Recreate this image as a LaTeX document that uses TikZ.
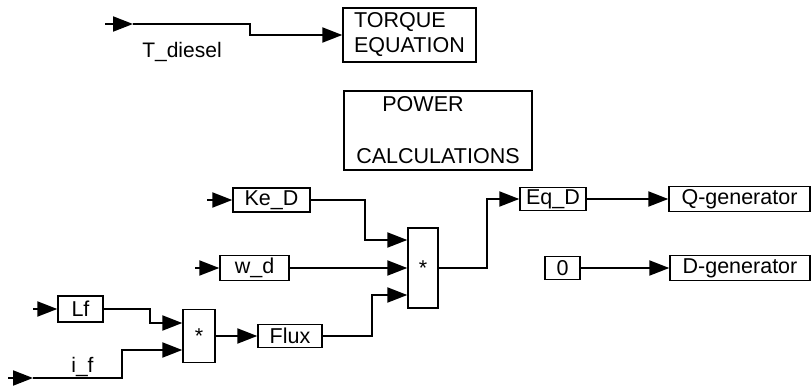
\documentclass[tikz,border=0pt]{standalone}
\usepackage{fontspec}
\setmainfont{Liberation Sans}
\usetikzlibrary{arrows.meta}
\begin{document}
\begin{tikzpicture}[x=1pt,y=-1pt,
  blk/.style={draw, line width=1.4pt, inner sep=0pt, font=\fontsize{21.5}{25}\selectfont},
  lbl/.style={inner sep=0pt, font=\fontsize{21}{25}\selectfont},
  ln/.style={line width=2pt},
  arr/.style={ln, -{Triangle[length=20pt,width=15pt]}}]
\useasboundingbox (0,0) rectangle (812,391);
% blocks
\node[blk, minimum width=133pt, minimum height=54pt, align=left] (torque) at (409.5,35) {TORQUE\\EQUATION};
\node[blk, minimum width=188pt, minimum height=79pt, align=center] (power) at (438,130.5) {POWER\hspace*{30pt}\\[27pt]CALCULATIONS};
\node[blk, minimum width=77pt, minimum height=24pt] (ked) at (271.5,200) {Ke\_D};
\node[blk, minimum width=69pt, minimum height=25pt] (wd) at (254.5,268) {w\_d};
\node[blk, minimum width=30pt, minimum height=80pt] (bigstar) at (423,268) {*};
\node[blk, minimum width=45pt, minimum height=26pt] (lf) at (80.5,309) {Lf};
\node[blk, minimum width=32pt, minimum height=53pt] (smstar) at (199,336) {*};
\node[blk, minimum width=64pt, minimum height=23pt] (flux) at (290,336) {Flux};
\node[blk, minimum width=66pt, minimum height=23pt] (eqd) at (553,199) {Eq\_D};
\node[blk, minimum width=141pt, minimum height=25pt] (qgen) at (739.5,199) {Q-generator};
\node[blk, minimum width=35pt, minimum height=23pt] (zero) at (562.5,268) {0};
\node[blk, minimum width=140pt, minimum height=25pt] (dgen) at (740,268) {D-generator};
% labels
\node[lbl, anchor=base] (tlabel) at (182,57) {T\_diesel};
\node[lbl, anchor=base] (iflabel) at (82.5,372) {i\_f};
% free ends
\coordinate (tin) at (105,24);
\coordinate (thead) at (133,24);
\coordinate (kein) at (207,200);
\coordinate (wdin) at (195,268);
\coordinate (lfin) at (33,309);
\coordinate (ifin) at (8,378);
\coordinate (ifhead) at (33,378);
% connectors
\draw[arr] (tin) -- (thead);
\draw[arr] (thead) -- (250,24) |- (torque.west);
\draw[arr] (kein) -- (ked.west);
\draw[arr] (wdin) -- (wd.west);
\draw[arr] (lfin) -- (lf.west);
\draw[arr] (ifin) -- (ifhead);
\draw[arr] (ked.east) -| (365,240) -- ([yshift=28pt]bigstar.west);
\draw[arr] (wd.east) -- (bigstar.west);
\draw[arr] (flux.east) -| (372,295) -- ([yshift=-27pt]bigstar.west);
\draw[arr] (bigstar.east) -| (487,199) -- (eqd.west);
\draw[arr] (eqd.east) -- (qgen.west);
\draw[arr] (zero.east) -- (dgen.west);
\draw[arr] (lf.east) -| (150,323) -- ([yshift=13pt]smstar.west);
\draw[arr] (ifhead) -| (122,350) -- ([yshift=-14pt]smstar.west);
\draw[arr] (smstar.east) -- (flux.west);
\end{tikzpicture}
\end{document}
